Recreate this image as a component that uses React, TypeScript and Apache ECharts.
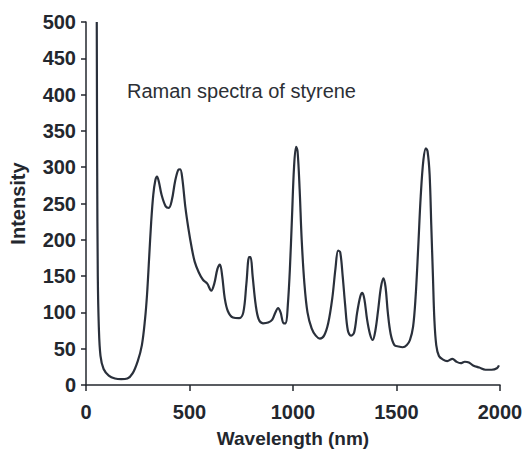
import React, { useEffect, useRef } from "react";
import * as echarts from "echarts";

// Raman shift positions and measured intensities along the spectrum trace
const wavelengths = [
  52, 54, 57, 62, 70, 85, 110, 140, 170, 200, 225, 250, 270, 285, 295, 305, 315, 325, 335, 343,
  352, 365, 385, 400, 415, 430, 445, 455, 465, 480, 495, 510, 525, 545, 565, 585, 605, 620, 635,
  647, 658, 670, 685, 710, 740, 760, 775, 788, 795, 805, 820, 835, 855, 880, 900, 915, 928, 940,
  955, 965, 975, 985, 995, 1005, 1015, 1022, 1032, 1042, 1055, 1070, 1090, 1110, 1130, 1150, 1170,
  1190, 1205, 1218, 1228, 1240, 1252, 1265, 1280, 1295, 1310, 1325, 1335, 1345, 1358, 1372, 1385,
  1398, 1412, 1425, 1437, 1447, 1458, 1472, 1490, 1510, 1530, 1550, 1565, 1580, 1592, 1605, 1617,
  1630, 1642, 1650, 1660, 1668, 1676, 1683, 1692, 1705, 1725, 1745, 1770, 1790, 1810, 1830, 1850,
  1870, 1900, 1930, 1960, 1985, 1995,
];
const intensities = [
  500, 300, 150, 80, 40, 22, 13, 9, 8, 9, 16, 33, 55, 90, 125, 175, 225, 262, 282, 287,
  280, 262, 246, 244, 255, 280, 296, 297, 285, 245, 215, 190, 170, 155, 145, 140, 130, 140, 160,
  166, 150, 120, 102, 93, 92, 100, 140, 176, 176, 150, 110, 90, 85, 86, 90, 100, 106, 100,
  85, 85, 110, 160, 230, 300, 328, 322, 270, 200, 140, 100, 78, 68, 64, 68, 85,
  120, 160, 185, 183, 150, 110, 75, 68, 72, 100, 122, 127, 118, 90, 70, 62,
  75, 105, 135, 147, 135, 100, 70, 55, 53, 52, 55, 62, 80, 120, 190, 260,
  310, 326, 322, 290, 220, 150, 90, 55, 40, 35, 33, 36, 32, 30, 32, 31,
  27, 24, 21, 21, 23, 27,
];

const xTicks = { min: 0, max: 2000, interval: 500 };
const yTicks = { min: 0, max: 500, interval: 50 };

const chartTitle = "Raman spectra of styrene";
const xName = "Wavelength (nm)";
const yName = "Intensity";

const FONT = "'Liberation Sans', Arial, sans-serif";
const INK = "#23272e";

export default function App() {
  const ref = useRef<HTMLDivElement>(null);

  useEffect(() => {
    if (!ref.current) return;
    const chart = echarts.init(ref.current, null, { renderer: "svg" });
    const points = wavelengths.map((w, i) => [w, intensities[i]]);

    chart.setOption({
      animation: false,
      backgroundColor: "#ffffff",
      title: {
        text: chartTitle,
        left: 122,
        top: 76,
        textStyle: {
          fontFamily: FONT,
          fontSize: 20,
          fontWeight: "normal",
          color: "#2c2f35",
        },
      },
      grid: { left: 86, right: 27, top: 22, bottom: 70 },
      xAxis: {
        type: "value",
        min: xTicks.min,
        max: xTicks.max,
        interval: xTicks.interval,
        name: xName,
        nameLocation: "middle",
        nameGap: 44,
        nameTextStyle: { fontFamily: FONT, fontSize: 19, color: INK, fontWeight: "bold" },
        axisLine: { show: true, lineStyle: { color: INK, width: 1.5 } },
        axisTick: { show: true, length: 6, lineStyle: { color: INK, width: 1.5 } },
        axisLabel: {
          fontFamily: FONT,
          fontSize: 20,
          fontWeight: "bold",
          color: INK,
          margin: 17,
          formatter: (v: number) => String(v),
        },
        splitLine: { show: false },
      },
      yAxis: {
        type: "value",
        min: yTicks.min,
        max: yTicks.max,
        interval: yTicks.interval,
        name: yName,
        nameLocation: "middle",
        nameGap: 58,
        nameTextStyle: { fontFamily: FONT, fontSize: 20, color: INK, fontWeight: "bold" },
        axisLine: { show: true, lineStyle: { color: INK, width: 1.5 } },
        axisTick: { show: true, length: 5, lineStyle: { color: INK, width: 1.5 } },
        axisLabel: {
          fontFamily: FONT,
          fontSize: 20,
          fontWeight: "bold",
          color: INK,
          margin: 10,
          formatter: (v: number) => String(v),
        },
        splitLine: { show: false },
      },
      series: [
        {
          type: "line",
          data: points,
          smooth: 0.35,
          showSymbol: false,
          lineStyle: { color: "#2a303b", width: 2.2 },
        },
      ],
    });

    return () => chart.dispose();
  }, []);

  return <div ref={ref} style={{ width: 527, height: 455, position: "absolute", left: 0, top: 0 }} />;
}
